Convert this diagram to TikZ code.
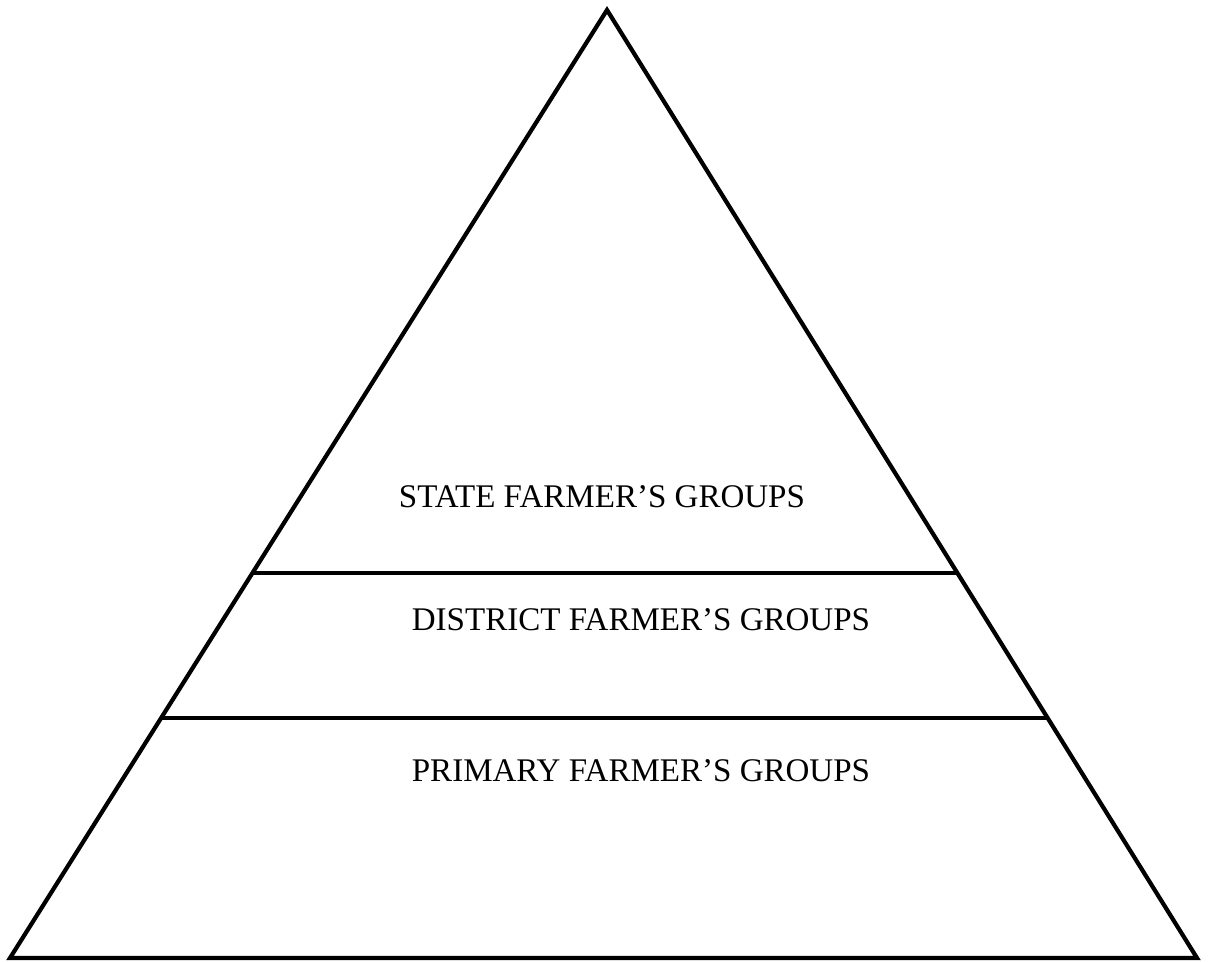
\documentclass[tikz,border=0pt]{standalone}
\usepackage{fontspec}
\setmainfont{Liberation Serif}
\usetikzlibrary{positioning,calc}

\tikzset{
 level/.style={font=\fontsize{18.8}{22}\selectfont,inner sep=0pt},
 edge/.style={line width=2.4pt,line join=miter}
}

\begin{document}
\begin{tikzpicture}[x=0.02cm,y=-0.02cm]
 \useasboundingbox (0,0) rectangle (1209,961);
 \coordinate (apex) at (607,10);
 \coordinate (bl) at (10,958);
 \coordinate (br) at (1197,958);
 \draw[edge] (bl)--(apex)--(br)--cycle;
 \draw[edge] ($(apex)!0.594!(bl)$)--($(apex)!0.594!(br)$);
 \draw[edge] ($(apex)!0.747!(bl)$)--($(apex)!0.747!(br)$);
 \node[level] (state) at (602,497) {STATE FARMER'S GROUPS};
 \node[level] (district) at (641,620) {DISTRICT FARMER'S GROUPS};
 \node[level] (primary) at (641,771) {PRIMARY FARMER'S GROUPS};
\end{tikzpicture}
\end{document}
